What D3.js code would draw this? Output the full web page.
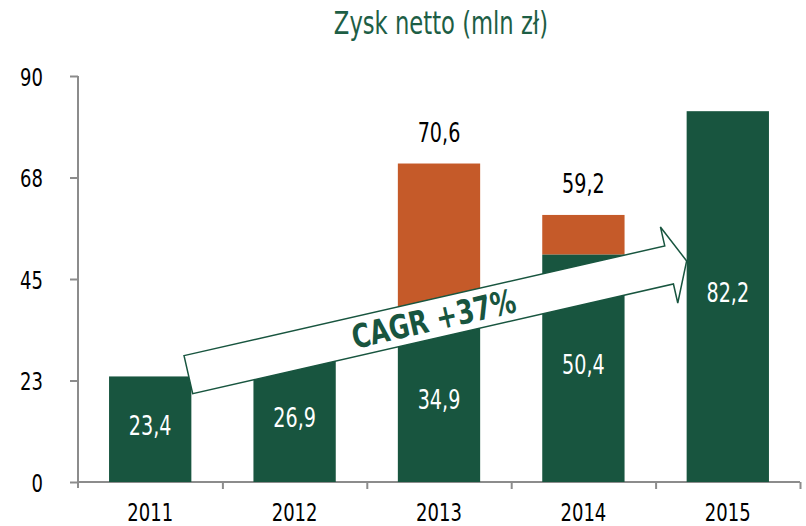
<!DOCTYPE html>
<html>
<head>
<meta charset="utf-8">
<script src="https://cdnjs.cloudflare.com/ajax/libs/d3/7.8.5/d3.min.js"></script>
<style>
  body { margin: 0; background: #fff; }
  text { font-family: "DejaVu Sans", sans-serif; }
  .axis path, .axis line { stroke: #8c8c8c; stroke-width: 2; }
</style>
</head>
<body>
<svg id="chart"></svg>
<script>
// data
var years = ["2011", "2012", "2013", "2014", "2015"];
var netProfit = [23.4, 26.9, 34.9, 50.4, 82.2];      // green part
var reported = [null, null, 70.6, 59.2, null];        // total incl. orange part
var yTicks = [0, 22.5, 45, 67.5, 90];
var yTickLabels = ["0", "23", "45", "68", "90"];
var titleText = "Zysk netto (mln zł)";
var cagrText = "CAGR +37%";

var green = "#18553f", orange = "#c55a29", titleGreen = "#1d5e45";
var narrow = 0.7;   // horizontal squeeze, the original uses a condensed face

var screen = {width: 806, height: 526};
var margins = {top: 76, bottom: 44, left: 78, right: 6};
var graph = {
    width: screen.width - margins.left - margins.right,
    height: screen.height - margins.top - margins.bottom
};

var svg = d3.select("#chart")
    .attr("width", screen.width)
    .attr("height", screen.height);

var xScale = d3.scaleBand()
    .domain(years)
    .range([0, graph.width])
    .paddingInner(0.43)
    .paddingOuter(0.215);

var yScale = d3.scaleLinear()
    .domain([0, 90])
    .range([graph.height, 0]);

// put text at (x,y) squeezed horizontally
var place = function(sel, fx, fy, sx) {
    sel.attr("transform", function(d, i) {
        return "translate(" + fx(d, i) + "," + fy(d, i) + ") scale(" + sx + ",1)";
    });
};

var g = svg.append("g")
    .attr("transform", "translate(" + margins.left + "," + margins.top + ")");

// title
svg.append("text")
    .text(titleText)
    .attr("text-anchor", "middle")
    .attr("fill", titleGreen)
    .style("font-size", "31.5px")
    .call(place, function() { return 441; }, function() { return 34; }, 0.72);

// axes
var yAxis = g.append("g").classed("axis", true)
    .call(d3.axisLeft(yScale).tickValues(yTicks).tickSize(8)
        .tickFormat(function(d, i) { return yTickLabels[i]; }));
yAxis.select(".domain").attr("d", "M0," + yScale(90) + "V" + (graph.height + 6));
yAxis.selectAll("text")
    .attr("x", 0).attr("dy", "0.36em")
    .attr("fill", "#000")
    .style("font-size", "25px")
    .call(place, function() { return -35; }, function() { return 0; }, 0.72);

var boundary = d3.scaleLinear().domain([0, years.length]).range([0, graph.width]);
var xAxis = g.append("g").classed("axis", true)
    .attr("transform", "translate(0," + graph.height + ")")
    .call(d3.axisBottom(boundary).tickValues(d3.range(1, years.length + 1))
        .tickSize(7).tickSizeOuter(0).tickFormat(""));
xAxis.select(".domain").attr("d", "M0,0H" + graph.width);

g.append("g")
    .selectAll("text")
    .data(years)
    .enter()
    .append("text")
    .text(function(d) { return d; })
    .attr("text-anchor", "middle")
    .attr("fill", "#000")
    .style("font-size", "24.7px")
    .call(place, function(d) { return xScale(d) + xScale.bandwidth() / 2; },
        function() { return graph.height + 39; }, 0.73);

// orange parts (stacked on top of the green)
var rows = years.map(function(y, i) {
    return {year: y, net: netProfit[i], total: reported[i]};
});

g.append("g")
    .selectAll("rect")
    .data(rows.filter(function(d) { return d.total != null; }))
    .enter()
    .append("rect")
    .attr("x", function(d) { return xScale(d.year); })
    .attr("width", xScale.bandwidth())
    .attr("y", function(d) { return yScale(d.total); })
    .attr("height", function(d) { return yScale(d.net) - yScale(d.total); })
    .attr("fill", orange);

g.append("g")
    .selectAll("rect")
    .data(rows)
    .enter()
    .append("rect")
    .attr("x", function(d) { return xScale(d.year); })
    .attr("width", xScale.bandwidth())
    .attr("y", function(d) { return yScale(d.net); })
    .attr("height", function(d) { return graph.height - yScale(d.net); })
    .attr("fill", green);

var fmt = function(v) { return v.toFixed(1).replace(".", ","); };

// white labels inside green bars
g.append("g")
    .selectAll("text")
    .data(rows)
    .enter()
    .append("text")
    .text(function(d) { return fmt(d.net); })
    .attr("dy", "0.36em")
    .attr("text-anchor", "middle")
    .attr("fill", "#fff")
    .style("font-size", "27.4px")
    .call(place, function(d) { return xScale(d.year) + xScale.bandwidth() / 2; },
        function(d) { return (yScale(d.net) + graph.height) / 2 - 4; }, narrow);

// totals above the orange parts
g.append("g")
    .selectAll("text")
    .data(rows.filter(function(d) { return d.total != null; }))
    .enter()
    .append("text")
    .text(function(d) { return fmt(d.total); })
    .attr("text-anchor", "middle")
    .attr("fill", "#000")
    .style("font-size", "27.4px")
    .call(place, function(d) { return xScale(d.year) + xScale.bandwidth() / 2; },
        function(d) { return yScale(d.total) - 22; }, narrow);

// CAGR arrow
var start = [xScale("2011") + xScale.bandwidth() - 3, yScale(23.8)];
var tip = [xScale("2015"), yScale(49)];
var len = Math.hypot(tip[0] - start[0], tip[1] - start[1]);
var angle = Math.atan2(tip[1] - start[1], tip[0] - start[0]) * 180 / Math.PI;
var shaft = 19.5, head = 39, headLen = 18;

var arrow = g.append("g")
    .attr("transform", "translate(" + start[0] + "," + start[1] + ") rotate(" + angle + ")");

arrow.append("path")
    .attr("d", d3.line()([
        [0, -shaft], [len - headLen, -shaft], [len - headLen, -head], [len, 0],
        [len - headLen, head], [len - headLen, shaft], [0, shaft]
    ]) + "Z")
    .attr("fill", "#fff")
    .attr("stroke", green)
    .attr("stroke-width", 1.5);

arrow.append("text")
    .text(cagrText)
    .attr("dy", "0.36em")
    .attr("text-anchor", "middle")
    .attr("fill", green)
    .style("font-weight", "bold")
    .style("font-size", "33px")
    .call(place, function() { return len / 2 - 4; }, function() { return 0; }, 0.76);
</script>
</body>
</html>
